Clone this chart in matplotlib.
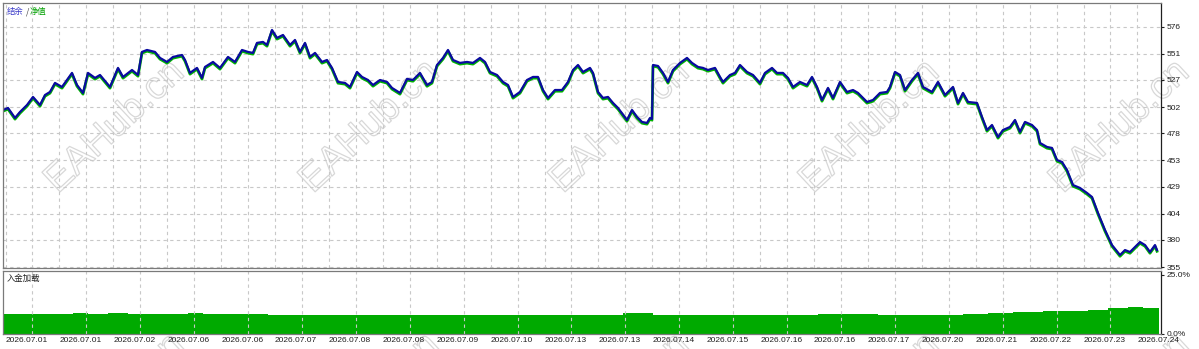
import numpy as np
import matplotlib
matplotlib.use('Agg')
import matplotlib.pyplot as plt
import matplotlib.patheffects as pe
from matplotlib.transforms import ScaledTranslation

# Dados (índice do negócio e saldo)
barras = [0, 5, 12, 17, 24, 30, 37, 42, 47, 52, 59, 69, 74, 80, 85, 92, 97, 107, 115, 120,
          129, 135, 139, 144, 152, 157, 164, 170, 179, 182, 187, 194, 199, 202, 210, 217, 225,
          232, 239, 245, 250, 254, 260, 264, 269, 274, 280, 287,
          292, 297, 302, 307, 312, 319, 324, 329, 335, 342, 347, 354, 359, 365, 370, 377, 384,
          389, 397, 404, 410, 417, 424, 429, 434, 440, 445, 450, 457, 464, 470, 477, 482, 487,
          494, 500, 505, 510, 517, 524, 530, 535, 540, 545, 552, 559, 565, 570, 575, 580, 587,
          590, 595, 600, 605, 610, 615, 624, 629, 634, 639, 644, 647, 649, 650, 655, 660, 665,
          670, 677, 684, 689, 695, 700, 705, 712, 717, 720, 727, 732, 737, 744, 750, 757, 762,
          769, 774, 780, 785, 790, 797, 804, 809, 814, 819, 825, 830, 837, 844, 850, 855, 864,
          870, 877, 884,
          887, 892, 897, 902, 909, 915, 920, 929, 935, 942, 950, 955, 960, 965, 974, 979, 984,
          989, 995, 1000, 1007, 1012, 1017, 1022, 1029, 1034, 1037, 1044, 1049, 1054, 1059,
          1064, 1070, 1077, 1084, 1089, 1095, 1102, 1109, 1117, 1122, 1127, 1132, 1137, 1142,
          1147, 1152, 1154]

saldo = [499.4, 501.3, 492.1, 497.6, 504.0, 511.4, 504.0, 513.2, 516.0, 524.3, 520.6, 533.5,
         522.4, 515.1, 533.5, 528.9, 531.6, 520.6, 538.1, 529.8, 536.2, 531.6, 552.8, 554.6,
         552.8, 547.3, 543.6, 548.2, 550.0, 545.4, 533.5, 538.1, 528.9, 539.0, 543.6, 538.1,
         548.2, 543.6, 554.6, 552.8, 551.9, 561.1, 562.0, 559.2, 573.0, 565.7, 568.4, 559.2,
         563.8, 552.8, 561.1, 548.2, 551.9, 543.6, 545.4, 538.1, 525.2, 524.3, 520.6, 534.4,
         529.8, 527.0, 522.4, 527.0, 525.2, 519.7, 515.1, 528.0, 527.0, 533.5, 522.4, 525.2,
         540.8, 547.3, 554.6, 545.4, 542.7, 543.6, 542.7, 547.3, 543.6, 534.4, 531.6, 525.2,
         522.4, 511.4, 516.0, 527.0, 529.8, 529.8, 517.8, 510.5, 517.8, 517.8, 525.2, 536.2,
         540.8, 534.4, 538.1,
         533.5, 516.0, 510.5, 511.4, 505.9, 501.3, 490.2, 499.4, 493.0, 488.4, 487.5, 492.1,
         491.2, 540.8, 539.9, 533.5, 525.2, 536.2, 542.7, 547.3, 542.7, 539.0, 538.1, 536.2,
         538.1, 529.8, 525.2, 531.6, 533.5, 540.8, 534.4, 531.6, 524.3, 533.5, 538.1, 533.5,
         533.5, 528.9, 520.6, 525.2, 522.4, 529.8, 520.6, 508.6, 519.7, 510.5, 525.2, 516.0,
         517.8, 515.1, 506.8, 508.6, 515.1, 516.0,
         520.6, 534.4, 531.6, 517.8, 527.0, 533.5, 520.6, 516.0, 525.2, 513.2, 520.6, 505.9,
         515.1, 506.8, 505.9, 493.0, 481.0, 485.6, 474.6, 481.0, 483.8, 490.2, 479.2, 488.4,
         485.6, 481.0, 469.1, 465.4, 464.5, 453.4, 451.6, 444.2, 430.4, 427.7, 423.1, 419.4,
         404.7, 389.0, 375.2, 366.0, 370.6, 368.8, 373.4, 378.0, 375.2, 368.8, 375.2, 370.6]

# Carga de depósito (%)
carga_barras = [0, 70, 85, 105, 125, 185, 200, 265, 320, 360, 420, 470, 530, 590, 620, 650,
                815, 875, 930, 960, 985, 1010, 1040, 1065, 1085, 1105, 1125, 1140, 1156]
carga = [8.3, 8.7, 8.3, 8.7, 8.3, 8.7, 8.3, 7.8, 8.0, 8.2, 8.0, 8.1, 8.0, 8.0, 8.7, 8.0,
         8.4, 8.0, 8.1, 8.4, 8.8, 9.2, 9.5, 9.8, 10.3, 10.8, 11.3, 11.0, 11.5]

ticks_y = [355, 380, 404, 429, 453, 478, 502, 527, 551, 576]
datas = ['2026.07.01', '2026.07.01', '2026.07.02', '2026.07.06', '2026.07.06', '2026.07.07',
         '2026.07.08', '2026.07.08', '2026.07.09', '2026.07.10', '2026.07.13', '2026.07.13',
         '2026.07.14', '2026.07.15', '2026.07.16', '2026.07.16', '2026.07.17', '2026.07.20',
         '2026.07.21', '2026.07.22', '2026.07.23', '2026.07.24']

W, H = 1199, 349
FONTE = 'Liberation Sans'
CJK = ['Noto Sans CJK SC', 'DejaVu Sans']


def eixo_px(fig, x0, y0, x1, y1):
    # cria eixo a partir de coordenadas em pixels (origem no topo)
    return fig.add_axes([x0 / W, 1 - y1 / H, (x1 - x0) / W, (y1 - y0) / H])


def estilo(ax, grade_x):
    ax.set_facecolor('none')
    for s in ax.spines.values():
        s.set_color('#7a7a7a')
        s.set_linewidth(0.9)
    ax.spines['right'].set_color('#202020')
    ax.set_xlim(0, 1158)
    ax.set_xticks(grade_x, minor=True)
    ax.grid(True, which='minor', axis='x', color='#c8c8c8', linestyle=(0, (3, 3)), linewidth=0.8)
    ax.yaxis.tick_right()
    ax.tick_params(axis='y', length=2.5, width=0.8, pad=1.5, labelsize=6, colors='#202020')
    ax.tick_params(axis='x', which='both', length=0)
    for t in ax.get_yticklabels():
        t.set_fontfamily(FONTE)


def main():
    fig = plt.figure(figsize=(W / 100, H / 100), dpi=100)
    grade_x = 2.5 + 26.95 * np.arange(43)

    # marca d'água
    for linha_y in [127, 400]:
        for cx in [115, 370, 620, 870, 1120]:
            fig.text(cx / W, 1 - linha_y / H, 'EAHub.cn', fontsize=28, family=FONTE,
                     rotation=43, ha='center', va='center', color=(1, 1, 1, 0), zorder=-5,
                     path_effects=[pe.Stroke(linewidth=0.9, foreground='#d8d8d8')])

    # painel principal
    ax = eixo_px(fig, 3, 3, 1161, 268)
    estilo(ax, grade_x)
    ax.plot(barras, saldo, color='#00b400', linewidth=2.0,
            transform=ax.transData + ScaledTranslation(0, -1.2 / 100, fig.dpi_scale_trans))
    ax.plot(barras, saldo, color='#0a0aa0', linewidth=1.6)
    ax.set_ylim(354.1, 597.8)
    ax.set_yticks(ticks_y)
    ax.set_yticklabels([str(v) for v in ticks_y], fontfamily=FONTE)
    ax.grid(True, which='major', axis='y', color='#c8c8c8', linestyle=(0, (3, 3)), linewidth=0.8)
    ax.set_xticks([])

    # legenda
    fig.text(7 / W, 1 - 11.5 / H, '结余', color='#3a3ac8', fontsize=6, family=CJK, va='center')
    fig.text(25.5 / W, 1 - 11.5 / H, '/', color='#404040', fontsize=6, family=CJK, va='center')
    fig.text(30 / W, 1 - 11.5 / H, '净值', color='#00a000', fontsize=6, family=CJK, va='center')

    # painel de carga
    ax2 = eixo_px(fig, 3, 271, 1161, 334)
    estilo(ax2, grade_x)
    ax2.fill_between(carga_barras, carga, 0, step='post', color='#00aa00', linewidth=0)
    ax2.set_ylim(0, 26.5)
    ax2.set_yticks([0, 25])
    ax2.set_yticklabels(['0.0%', '25.0%'], fontfamily=FONTE)
    ax2.set_xticks(grade_x[::2])
    ax2.set_xticklabels(datas, fontsize=6, fontfamily=FONTE, ha='left', color='#202020')
    ax2.tick_params(axis='x', which='major', pad=2)
    fig.text(7 / W, 1 - 278 / H, '入金加载', color='#202020', fontsize=6, family=CJK, va='center')

    fig.savefig('out.png', dpi=100, facecolor='white')


if __name__ == "__main__":
    main()
